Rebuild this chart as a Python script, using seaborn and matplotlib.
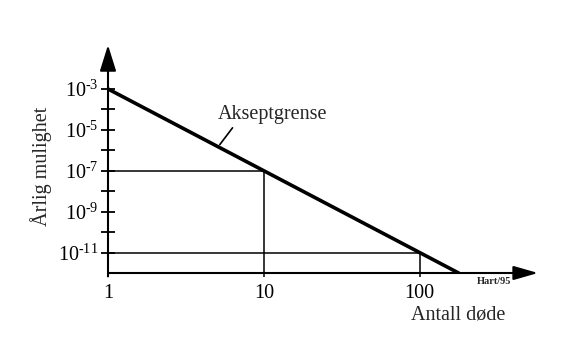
import numpy as np
import matplotlib
matplotlib.use("Agg")
import matplotlib.pyplot as plt
import seaborn as sns

# Data
line_x = [1, 178]            # Antall døde
line_y = [1e-3, 1e-12]       # Akseptgrense (årlig mulighet)
ref_x = [10, 100]
ref_y = [1e-7, 1e-11]
ytick_exps = list(range(-11, -2))
xtick_vals = [1, 10, 100]
xtick_labels = ["1", "10", "100"]

sns.set_style("white")
plt.rcParams["font.family"] = ["Liberation Serif", "DejaVu Serif"]
plt.rcParams["mathtext.fontset"] = "custom"
plt.rcParams["mathtext.rm"] = "Liberation Serif"
plt.rcParams["mathtext.it"] = "Liberation Serif"
plt.rcParams["mathtext.bf"] = "Liberation Serif:bold"
plt.rcParams["mathtext.default"] = "rm"

FS = 14.5
W, H = 564, 338
fig = plt.figure(figsize=(W / 100, H / 100), dpi=100)
ax = fig.add_axes([108 / W, (H - 273) / H, (538 - 108) / W, (273 - 45) / H])

sns.lineplot(x=line_x, y=line_y, ax=ax, color="black", lw=2.6)
ax.hlines(ref_y, 1, ref_x, color="black", lw=1.1)
ax.vlines(ref_x, 1e-12, ref_y, color="black", lw=1.1)

ax.set_xscale("log")
ax.set_yscale("log")
ax.set_xlim(1, 10 ** 2.76)
ax.set_ylim(1e-12, 10 ** -0.85)

for s in ax.spines.values():
    s.set_visible(False)

arrow_y = dict(arrowstyle="-|>,head_length=1.6,head_width=0.5", mutation_scale=10,
               lw=1.5, color="black", shrinkA=0, shrinkB=0)
arrow_x = dict(arrowstyle="-|>,head_length=1.5,head_width=0.43", mutation_scale=10,
               lw=1.5, color="black", shrinkA=0, shrinkB=0)
ax.annotate("", xy=(0, 1), xytext=(0, -0.015), xycoords="axes fraction", arrowprops=arrow_y)
ax.annotate("", xy=(1, 0), xytext=(0, 0), xycoords="axes fraction", arrowprops=arrow_x)

yt = [10.0 ** e for e in ytick_exps]
ylabels = ["$10^{\u2010%d}$" % abs(e) if e % 2 else "" for e in ytick_exps]
ax.set_yticks(yt)
ax.set_yticklabels(ylabels)
ax.yaxis.set_minor_locator(matplotlib.ticker.NullLocator())
ax.tick_params(axis="y", direction="inout", length=10, width=1.3, pad=2,
               labelsize=FS, left=True, colors="black")

ax.set_xticks(xtick_vals)
ax.set_xticklabels(xtick_labels)
ax.xaxis.set_minor_locator(matplotlib.ticker.NullLocator())
ax.tick_params(axis="x", direction="out", length=3, width=1.1, pad=5,
               labelsize=FS, bottom=True, colors="black")
ax.grid(False)

ax.text(11.3, 10 ** -4.27, "Akseptgrense", fontsize=FS, ha="center", va="center")
ax.plot([6.3, 5.22], [10 ** -4.9, 10 ** -5.72], color="black", lw=1.2)

fig.text(41 / W, 1 - 166 / H, "Årlig mulighet", rotation=90, fontsize=FS,
         ha="center", va="center")
fig.text(458 / W, 1 - 315 / H, "Antall døde", fontsize=FS, ha="center", va="center")
fig.text(494 / W, 1 - 281 / H, "Hart/95", fontsize=7.5, fontweight="bold",
         ha="center", va="center")

fig.savefig("out.png", dpi=100)
